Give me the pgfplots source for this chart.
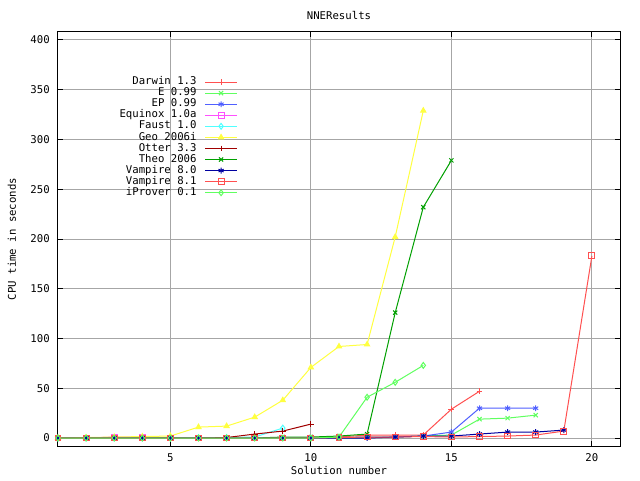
\documentclass[border=0pt]{standalone}
\usepackage{fontspec}
\setmainfont{DejaVu Sans Mono}
\usepackage{pgfplots}
\pgfplotsset{compat=1.18}
\definecolor{cDarwin}{HTML}{FF5050}
\definecolor{cE}{HTML}{60FF60}
\definecolor{cEP}{HTML}{5060FF}
\definecolor{cEqu}{HTML}{FF50FF}
\definecolor{cFaust}{HTML}{50FFFF}
\definecolor{cGeo}{HTML}{FFFF40}
\definecolor{cOtter}{HTML}{A00000}
\definecolor{cTheo}{HTML}{00A000}
\definecolor{cV80}{HTML}{0000A0}
\definecolor{cV81}{HTML}{FF5050}
\definecolor{cIP}{HTML}{60FF60}
\begin{document}
\fontsize{8}{9.5}\selectfont
\begin{tikzpicture}
\fill[white] (-43.5pt,-25.5pt) rectangle (436.5pt,334.5pt);
\begin{axis}[
  scale only axis, width=421.5pt, height=310.5pt,
  at={(0,0)}, anchor=south west,
  xmin=1, xmax=21, ymin=-8, ymax=408,
  xtick={5,10,15,20}, ytick={0,50,...,400},
  grid=major, major grid style={color=black!35, line width=0.75pt},
  tick align=inside, major tick length=4pt,
  axis line style={line width=0.75pt},
  tick style={black, line width=0.75pt},
  /pgf/number format/assume math mode=true,
  xticklabel style={anchor=center, yshift=-9pt},
  yticklabel style={anchor=east, inner sep=0pt, xshift=-6pt},
  title={NNEResults},
  title style={at={(axis description cs:0.5,1.041)}, anchor=center, yshift=-6pt},
  xlabel={Solution number},
  xlabel style={at={(axis description cs:0.5,-0.058)}, anchor=center},
  ylabel={CPU time in seconds},
  ylabel style={at={(axis description cs:-0.082,0.5)}, anchor=center},
  every axis plot/.append style={line width=0.75pt, mark size=2.2pt, mark options={solid}},
  legend image code/.code={\draw[mark repeat=2,mark phase=2,#1] plot coordinates {(0pt,0pt) (12pt,0pt) (24pt,0pt)};},
  legend plot pos=right,
  legend cell align=right,
  legend style={at={(axis description cs:0.320,0.891)}, anchor=north east,
    draw=none, fill=none, inner sep=0pt, row sep=1.3pt, /tikz/column sep=6pt,
    nodes={inner sep=0pt, text height=5.5pt, text depth=1.5pt}},
]
\addplot[color=cDarwin, mark=+] coordinates {(1,0)(2,0)(3,0)(4,0)(5,0)(6,0)(7,0)(8,0)(9,0)(10,0.5)(11,1)(12,3)(13,3)(14,3)(15,29)(16,47)};
\addlegendentry{Darwin 1.3}
\addplot[color=cE, mark=x] coordinates {(1,0)(2,0)(3,0)(4,0)(5,0)(6,0)(7,0)(8,0)(9,0)(10,0)(11,0.5)(12,1)(13,1)(14,2)(15,3)(16,19)(17,20)(18,23)};
\addlegendentry{E 0.99}
\addplot[color=cEP, mark=asterisk] coordinates {(1,0)(2,0)(3,0)(4,0)(5,0)(6,0)(7,0)(8,0)(9,0)(10,0)(11,0.5)(12,1)(13,1)(14,2)(15,6)(16,30)(17,30)(18,30)};
\addlegendentry{EP 0.99}
\addplot[color=cEqu, mark=square] coordinates {(1,0)(2,0)(3,1)(4,1)};
\addlegendentry{Equinox 1.0a}
\addplot[color=cFaust, mark=diamond] coordinates {(1,0)(2,0)(3,0)(4,0)(5,0)(6,0.5)(7,0.5)(8,1)(9,10)};
\addlegendentry{Faust 1.0}
\addplot[color=cGeo, mark=triangle*] coordinates {(1,0)(2,0.5)(3,1)(4,1.5)(5,2)(6,11)(7,12)(8,21)(9,38)(10,71)(11,92)(12,94)(13,202)(14,329)};
\addlegendentry{Geo 2006i}
\addplot[color=cOtter, mark=+] coordinates {(1,0)(2,0)(3,0)(4,0)(5,0)(6,0)(7,0.5)(8,4)(9,7)(10,14)};
\addlegendentry{Otter 3.3}
\addplot[color=cTheo, mark=x] coordinates {(1,0)(2,0)(3,0)(4,0)(5,0)(6,0)(7,0)(8,0)(9,1)(10,1)(11,2)(12,4)(13,126)(14,232)(15,279)};
\addlegendentry{Theo 2006}
\addplot[color=cV80, mark=asterisk] coordinates {(1,0)(2,0)(3,0)(4,0)(5,0)(6,0)(7,0)(8,0)(9,0)(10,0)(11,0)(12,0)(13,1)(14,2)(15,2)(16,4)(17,6)(18,6)(19,8)};
\addlegendentry{Vampire 8.0}
\addplot[color=cV81, mark=square] coordinates {(1,0)(2,0)(3,0)(4,0)(5,0)(6,0)(7,0)(8,0)(9,0)(10,0)(11,0.5)(12,1)(13,1)(14,1.5)(15,1)(16,1.5)(17,2)(18,3)(19,7)(20,183)};
\addlegendentry{Vampire 8.1}
\addplot[color=cIP, mark=diamond] coordinates {(1,0)(2,0)(3,0)(4,0)(5,0)(6,0)(7,0)(8,0)(9,0)(10,0)(11,1)(12,41)(13,56)(14,73)};
\addlegendentry{iProver 0.1}
\end{axis}
\pgfresetboundingbox
\path[use as bounding box] (-43.5pt,-25.5pt) rectangle (436.5pt,334.5pt);
\end{tikzpicture}
\end{document}
